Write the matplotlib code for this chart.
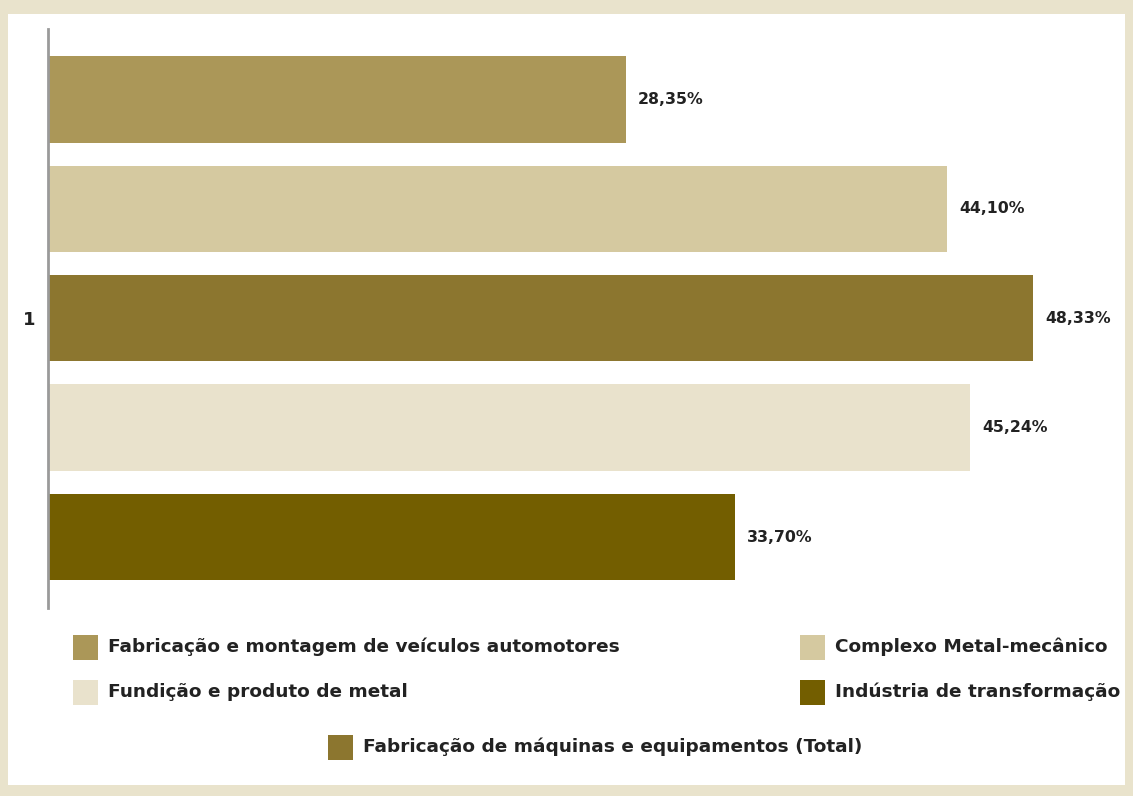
import matplotlib
matplotlib.use('Agg')
import matplotlib.pyplot as plt
from matplotlib.patches import Rectangle

# percentages per sector, top bar to bottom bar
sectors = ['Fabricação e montagem de veículos automotores',
           'Complexo Metal-mecânico',
           'Fabricação de máquinas e equipamentos (Total)',
           'Fundição e produto de metal',
           'Indústria de transformação']
values = [28.35, 44.10, 48.33, 45.24, 33.70]
colors = ['#AB9758', '#D5C9A0', '#8C762F', '#E9E2CC', '#735E00']
group_label = '1'

W, H = 1133, 796
fig = plt.figure(figsize=(W / 100, H / 100), dpi=100, facecolor='#E9E3CC')

# white panel inside the beige frame
fig.patches.append(Rectangle((8 / W, 1 - 785 / H), (1125 - 8) / W, (785 - 14) / H,
                             transform=fig.transFigure, facecolor='white',
                             edgecolor='none', zorder=-5))

ax = fig.add_axes([48 / W, 1 - 608 / H, 1072 / W, (608 - 29) / H])
ax.set_facecolor('none')
ax.set_zorder(2)

pos = list(range(len(values)))
bars = ax.barh(pos, values, height=0.79, color=colors, edgecolor='none')
ax.set_xlim(0, 1072 / 20.385)
ax.set_ylim(4.648, -0.644)

for b, v in zip(bars, values):
    ax.text(v + 0.6, b.get_y() + b.get_height() / 2, f'{v:.2f}%'.replace('.', ','),
            va='center', ha='left', fontsize=11.3, fontweight='bold',
            family='DejaVu Sans', color='#222222')

for s in ['top', 'right', 'bottom']:
    ax.spines[s].set_visible(False)
ax.spines['left'].set_color('#9A9A9A')
ax.spines['left'].set_linewidth(2)
ax.set_xticks([])
ax.set_yticks([2])
ax.set_yticklabels([group_label], fontsize=13, fontweight='bold',
                   family='DejaVu Sans', color='#222222')
ax.tick_params(axis='y', length=0, pad=9)

# legend: (sector index, handle x, row center y) in pixels
legend_items = [(0, 73, 647), (1, 800, 647), (3, 73, 692), (4, 800, 692), (2, 328, 747)]
for i, hx, cy in legend_items:
    fig.patches.append(Rectangle((hx / W, 1 - (cy + 12.5) / H), 25 / W, 25 / H,
                                 transform=fig.transFigure, facecolor=colors[i],
                                 edgecolor='none'))
    fig.text((hx + 35) / W, 1 - cy / H, sectors[i], ha='left', va='center',
             fontsize=13.3, fontweight='bold', family='DejaVu Sans', color='#222222')

fig.savefig('out.png', dpi=100, facecolor=fig.get_facecolor())
